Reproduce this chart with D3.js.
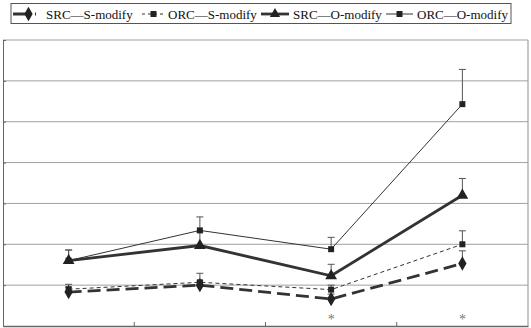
<!DOCTYPE html>
<html><head><meta charset="utf-8">
<script src="https://cdn.jsdelivr.net/npm/d3@7/dist/d3.min.js"></script>
<style>body{margin:0;background:#fff;}svg{display:block;font-family:"Liberation Serif","Times New Roman",serif;}</style>
</head><body>
<script>
const categories = ["1", "2", "3", "4"];
const yTicks = [0, 1, 2, 3, 4, 5, 6, 7];
const seriesNames = ["SRC—S-modify", "ORC—S-modify", "SRC—O-modify", "ORC—O-modify"];
const srcS = [0.83, 1.0, 0.66, 1.53];
const orcS = [0.9, 1.07, 0.89, 2.0];
const srcO = [1.6, 1.97, 1.23, 3.2];
const orcO = [1.6, 2.34, 1.88, 5.43];
const srcSErr = [0.95, 1.1, 0.78, 1.84];
const orcSErr = [1.02, 1.29, 1.0, 2.33];
const srcOErr = [1.86, 2.3, 1.51, 3.61];
const orcOErr = [1.86, 2.67, 2.17, 6.28];
const sigMarks = ["", "", "*", "*"];

const W = 531, H = 328;
const svg = d3.select("body").append("svg").attr("width", W).attr("height", H);
const L = 3, R = 528, T = 40, B = 326;
const x = d3.scaleBand().domain(categories).range([L, R]);
const y = d3.scaleLinear().domain([0, 7]).range([B, T]);
const cx = c => x(c) + x.bandwidth() / 2;

// gridlines
svg.append("g").selectAll("line").data(yTicks.filter(v => v > 0)).join("line")
  .attr("x1", L).attr("x2", R).attr("y1", d => y(d)).attr("y2", d => y(d))
  .attr("stroke", "#a0a0a0").attr("stroke-width", 1);
// right border
svg.append("line").attr("x1", R).attr("x2", R).attr("y1", T).attr("y2", B)
  .attr("stroke", "#a0a0a0").attr("stroke-width", 1.2);

// axes
const yAxis = svg.append("g").attr("transform", `translate(${L},0)`)
  .call(d3.axisLeft(y).tickValues(yTicks).tickSize(-3).tickFormat(""));
yAxis.selectAll("path,line").attr("stroke", "#666");
const xAxis = svg.append("g").attr("transform", `translate(0,${B})`)
  .call(d3.axisBottom(x).tickSize(0).tickFormat(""));
xAxis.select("path").attr("stroke", "#666").attr("stroke-width", 1.3);
svg.append("g").selectAll("line").data(categories.slice(1)).join("line")
  .attr("x1", d => x(d)).attr("x2", d => x(d)).attr("y1", B).attr("y2", B - 4)
  .attr("stroke", "#666");

const styles = [
  {vals: srcS, err: srcSErr, w: 2.8, dash: "13,6", marker: "diamond"},
  {vals: orcS, err: orcSErr, w: 1, dash: "4,3", marker: "square"},
  {vals: srcO, err: srcOErr, w: 2.8, dash: null, marker: "triangle"},
  {vals: orcO, err: orcOErr, w: 1, dash: null, marker: "square"}
];
const col = "#333";
const symType = {diamond: d3.symbolDiamond, square: d3.symbolSquare, triangle: d3.symbolTriangle};
const symSize = {diamond: 60, square: 36, triangle: 60};

// error bars
styles.forEach(s => {
  const g = svg.append("g");
  categories.forEach((c, i) => {
    g.append("line").attr("x1", cx(c)).attr("x2", cx(c)).attr("y1", y(s.vals[i])).attr("y2", y(s.err[i]))
      .attr("stroke", "#555").attr("stroke-width", 1);
    g.append("line").attr("x1", cx(c) - 3.5).attr("x2", cx(c) + 3.5).attr("y1", y(s.err[i])).attr("y2", y(s.err[i]))
      .attr("stroke", "#555").attr("stroke-width", 1);
  });
});

const line = d3.line().x((d, i) => cx(categories[i])).y(d => y(d));
styles.forEach(s => {
  svg.append("path").datum(s.vals).attr("d", line).attr("fill", "none")
    .attr("stroke", col).attr("stroke-width", s.w).attr("stroke-dasharray", s.dash);
  svg.append("g").selectAll("path").data(s.vals).join("path")
    .attr("transform", (d, i) => `translate(${cx(categories[i])},${y(d)})`)
    .attr("d", d3.symbol().type(symType[s.marker]).size(symSize[s.marker]))
    .attr("fill", "#222");
});

// significance marks
svg.append("g").selectAll("text").data(sigMarks).join("text")
  .attr("x", (d, i) => cx(categories[i])).attr("y", 324).attr("text-anchor", "middle")
  .attr("font-size", 14).attr("fill", "#777").text(d => d);

// legend
svg.append("rect").attr("x", 11).attr("y", 3.5).attr("width", 500).attr("height", 20)
  .attr("fill", "#fff").attr("stroke", "#555").attr("stroke-width", 1);
const legX = [[13, 36, 46], [142, 165, 168], [261, 289, 293], [386, 413, 417]];
styles.forEach((s, i) => {
  const [a, b, t] = legX[i];
  const g = svg.append("g");
  g.append("line").attr("x1", a).attr("x2", b).attr("y1", 14).attr("y2", 14)
    .attr("stroke", col).attr("stroke-width", s.w).attr("stroke-dasharray", s.dash ? (i === 0 ? "18,4,2,100" : "3,3") : null);
  g.append("path").attr("transform", `translate(${(a + b) / 2 + (i === 0 ? 4 : 0)},14)`)
    .attr("d", d3.symbol().type(symType[s.marker]).size(i === 2 ? 45 : symSize[s.marker])).attr("fill", "#222");
  g.append("text").attr("x", t).attr("y", 18.5).attr("font-size", 13).attr("fill", "#111").text(seriesNames[i]);
});
</script>
</body></html>
